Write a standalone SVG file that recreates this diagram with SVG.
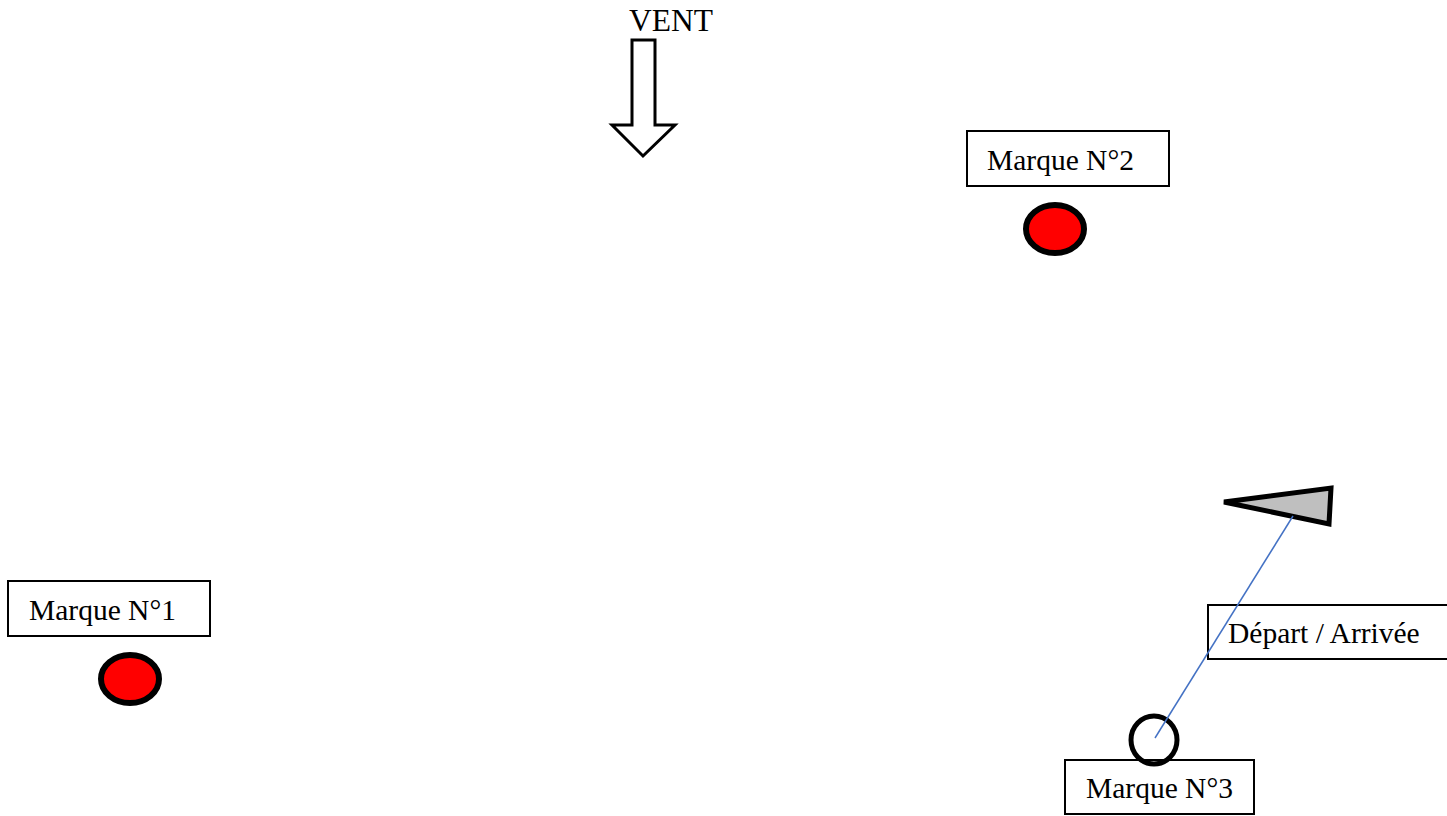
<svg xmlns="http://www.w3.org/2000/svg" width="1447" height="816" viewBox="0 0 1447 816">
<style>
.lbl{font-family:"Liberation Serif","Times New Roman",serif;font-size:29.5px;fill:#000}
.box{fill:#fff;stroke:#000;stroke-width:2}
.buoy{fill:#f00;stroke:#000;stroke-width:6}
</style>
<rect width="1447" height="816" fill="#fff"/>
<g id="vent">
<text class="lbl" x="629" y="31" style="font-size:31.5px">VENT</text>
<polygon points="632,40 655,40 655,125 675,125 643,156 612,125 632,125" fill="#fff" stroke="#000" stroke-width="3" stroke-linejoin="miter"/>
</g>
<g id="marque2">
<rect class="box" x="967" y="131" width="202" height="55"/>
<text class="lbl" x="987" y="170">Marque N°2</text>
<ellipse class="buoy" cx="1055" cy="229" rx="29" ry="24"/>
</g>
<g id="marque1">
<rect class="box" x="8" y="581" width="202" height="55"/>
<text class="lbl" x="29" y="620">Marque N°1</text>
<ellipse class="buoy" cx="130" cy="679" rx="29" ry="24"/>
</g>
<g id="depart">
<rect class="box" x="1208" y="605" width="240" height="54"/>
<text class="lbl" x="1228" y="643">Départ / Arrivée</text>
</g>
<g id="marque3">
<rect class="box" x="1065" y="760" width="189" height="54"/>
<text class="lbl" x="1086" y="798">Marque N°3</text>
<ellipse cx="1154" cy="740" rx="23" ry="24" fill="none" stroke="#000" stroke-width="5"/>
</g>
<g id="bateau">
<polygon points="1224,502 1331,488 1329,524" fill="#bfbfbf" stroke="#000" stroke-width="5" stroke-linejoin="miter"/>
</g>
<g id="connectors">
<line x1="1155" y1="738" x2="1293" y2="516" stroke="#4472c4" stroke-width="1.5"/>
</g>
</svg>
